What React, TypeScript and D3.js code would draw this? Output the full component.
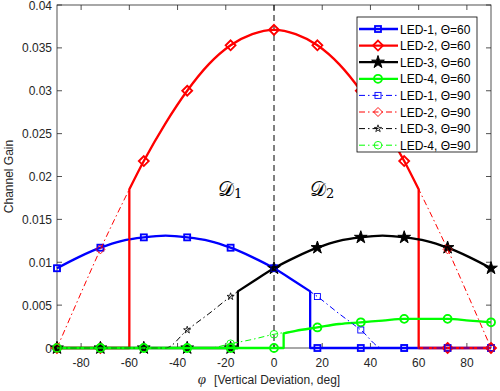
import React from 'react';
import * as d3 from 'd3';

type Pt = [number, number];

const width = 500;
const height = 391;
const margin = { top: 5, right: 9, bottom: 43, left: 57 };

const xTicks = [-80, -60, -40, -20, 0, 20, 40, 60, 80];
const yTicks = [0, 0.005, 0.01, 0.015, 0.02, 0.025, 0.03, 0.035, 0.04];
const yTickLabels = ['0', '0.005', '0.01', '0.015', '0.02', '0.025', '0.03', '0.035', '0.04'];
const markerPhi = [-90, -72, -54, -36, -18, 0, 18, 36, 54, 72, 90];

// receiver FOV 60
const led1Fov60: Pt[] = [
  [-90, 0.0093], [-81, 0.0106], [-72, 0.0117], [-63, 0.0125], [-54, 0.0129], [-45, 0.0131],
  [-36, 0.0129], [-27, 0.0125], [-18, 0.0117], [-9, 0.0106], [0, 0.0093], [9, 0.0077],
  [15, 0.0066], [15, 0], [18, 0], [36, 0], [54, 0], [72, 0], [90, 0],
];
const led2Fov60: Pt[] = [
  [-90, 0], [-72, 0], [-60, 0], [-60, 0.0185], [-54, 0.0218], [-45, 0.0262], [-36, 0.03],
  [-27, 0.0331], [-18, 0.0353], [-9, 0.0366], [0, 0.0371], [9, 0.0366], [18, 0.0353],
  [27, 0.0331], [36, 0.03], [45, 0.0262], [54, 0.0218], [60, 0.0185], [60, 0], [72, 0], [90, 0],
];
const led3Fov60: Pt[] = [
  [-90, 0], [-72, 0], [-54, 0], [-36, 0], [-18, 0], [-15, 0], [-15, 0.0066], [-9, 0.0077],
  [0, 0.0093], [9, 0.0106], [18, 0.0117], [27, 0.0125], [36, 0.0129], [45, 0.0131],
  [54, 0.0129], [63, 0.0125], [72, 0.0117], [81, 0.0106], [90, 0.0093],
];
const led4Fov60: Pt[] = [
  [-90, 0], [-72, 0], [-54, 0], [-36, 0], [-18, 0], [0, 0], [4, 0], [4, 0.0017], [9, 0.002],
  [18, 0.0024], [27, 0.0028], [36, 0.003], [45, 0.0032], [54, 0.0034], [63, 0.0034],
  [72, 0.0034], [81, 0.0032], [90, 0.003],
];

// receiver FOV 90
const led1Fov90: Pt[] = [
  [-90, 0.0093], [-81, 0.0106], [-72, 0.0117], [-63, 0.0125], [-54, 0.0129], [-45, 0.0131],
  [-36, 0.0129], [-27, 0.0125], [-18, 0.0117], [-9, 0.0106], [0, 0.0093], [9, 0.0077],
  [18, 0.006], [27, 0.004], [36, 0.0021], [45, 0], [54, 0], [72, 0], [90, 0],
];
const led2Fov90: Pt[] = [
  [-90, 0], [-81, 0.0058], [-72, 0.0115], [-63, 0.0168], [-54, 0.0218], [-45, 0.0262],
  [-36, 0.03], [-27, 0.0331], [-18, 0.0353], [-9, 0.0366], [0, 0.0371], [9, 0.0366],
  [18, 0.0353], [27, 0.0331], [36, 0.03], [45, 0.0262], [54, 0.0218], [63, 0.0168],
  [72, 0.0115], [81, 0.0058], [90, 0],
];
const led3Fov90: Pt[] = [
  [-90, 0], [-72, 0], [-54, 0], [-45, 0], [-36, 0.0021], [-27, 0.004], [-18, 0.006],
  [-9, 0.0077], [0, 0.0093], [9, 0.0106], [18, 0.0117], [27, 0.0125], [36, 0.0129],
  [45, 0.0131], [54, 0.0129], [63, 0.0125], [72, 0.0117], [81, 0.0106], [90, 0.0093],
];
const led4Fov90: Pt[] = [
  [-90, 0], [-72, 0], [-54, 0], [-36, 0], [-27, 0], [-18, 0.0005], [-9, 0.001], [0, 0.0016],
  [9, 0.002], [18, 0.0024], [27, 0.0028], [36, 0.003], [45, 0.0032], [54, 0.0034],
  [63, 0.0034], [72, 0.0034], [81, 0.0032], [90, 0.003],
];

const seriesNames = [
  'LED-1, \u0398=60', 'LED-2, \u0398=60', 'LED-3, \u0398=60', 'LED-4, \u0398=60',
  'LED-1, \u0398=90', 'LED-2, \u0398=90', 'LED-3, \u0398=90', 'LED-4, \u0398=90',
];

const blue = '#0000ff';
const red = '#ff0000';
const black = '#000000';
const green = '#00ff00';
const axisColor = '#262626';
const font = 'Liberation Sans, Arial, sans-serif';

type Shape = 'square' | 'diamond' | 'star' | 'circle';

const series = [
  { data: led1Fov60, color: blue, shape: 'square' as Shape, thick: true },
  { data: led2Fov60, color: red, shape: 'diamond' as Shape, thick: true },
  { data: led3Fov60, color: black, shape: 'star' as Shape, thick: true },
  { data: led4Fov60, color: green, shape: 'circle' as Shape, thick: true },
  { data: led1Fov90, color: blue, shape: 'square' as Shape, thick: false },
  { data: led2Fov90, color: red, shape: 'diamond' as Shape, thick: false },
  { data: led3Fov90, color: black, shape: 'star' as Shape, thick: false },
  { data: led4Fov90, color: green, shape: 'circle' as Shape, thick: false },
];

const Marker = ({ shape, color, thick, cx, cy }: any) => {
  const sw = thick ? 1.8 : 0.9;
  if (shape === 'square') {
    const s = 6;
    return <rect x={cx - s / 2} y={cy - s / 2} width={s} height={s} fill='none' stroke={color} strokeWidth={sw} />;
  }
  if (shape === 'diamond') {
    const r = thick ? 5 : 4.5;
    return (
      <path d={`M${cx},${cy - r}L${cx + r},${cy}L${cx},${cy + r}L${cx - r},${cy}Z`} fill='none' stroke={color} strokeWidth={sw} />
    );
  }
  if (shape === 'circle') {
    const r = thick ? 4 : 3.8;
    return <circle cx={cx} cy={cy} r={r} fill='none' stroke={color} strokeWidth={sw} />;
  }
  const star = d3.symbol().type(d3.symbolStar).size(thick ? 50 : 16)();
  return (
    <path d={star || ''} transform={`translate(${cx},${cy})`} fill={thick ? color : 'none'} stroke={color} strokeWidth={thick ? 1 : 0.8} />
  );
};

const App = () => {
  const xScale = d3.scaleLinear().domain([-90, 90]).range([margin.left, width - margin.right]);
  const yScale = d3.scaleLinear().domain([0, 0.04]).range([height - margin.bottom, margin.top]);
  const x0 = margin.left;
  const x1 = width - margin.right;
  const y0 = height - margin.bottom;
  const y1 = margin.top;

  const lineGen = d3
    .line<Pt>()
    .x(d => xScale(d[0]))
    .y(d => yScale(d[1]))
    .curve(d3.curveMonotoneX);

  // split where phi repeats so the FOV cut-offs come out as vertical steps
  const buildPath = (pts: Pt[]) => {
    const segs: Pt[][] = [];
    let cur: Pt[] = [pts[0]];
    for (let i = 1; i < pts.length; i++) {
      if (pts[i][0] === pts[i - 1][0]) {
        segs.push(cur);
        cur = [pts[i]];
      } else cur.push(pts[i]);
    }
    segs.push(cur);
    return segs
      .map((s, i) => {
        const p = lineGen(s) || '';
        return i === 0 ? p : 'L' + p.slice(1);
      })
      .join('');
  };

  const dashDot = '6,3,1.5,3';
  const legendX = 357;
  const legendY = 17;
  const rowH = 16.6;

  return (
    <svg width={width} height={height} style={{ position: 'absolute', left: 0, top: 0, background: '#fff' }}>
      <rect x={0} y={0} width={width} height={height} fill='#fff' />
      {/* axes box and ticks */}
      <rect x={x0} y={y1} width={x1 - x0} height={y0 - y1} fill='none' stroke={axisColor} strokeWidth={0.8} />
      {xTicks.map(t => (
        <g key={`xt-${t}`}>
          <line x1={xScale(t)} x2={xScale(t)} y1={y0} y2={y0 - 5} stroke={axisColor} strokeWidth={0.8} />
          <line x1={xScale(t)} x2={xScale(t)} y1={y1} y2={y1 + 5} stroke={axisColor} strokeWidth={0.8} />
          <text x={xScale(t)} y={y0 + 19} textAnchor='middle' fontFamily={font} fontSize={12} fill={axisColor}>
            {t}
          </text>
        </g>
      ))}
      {yTicks.map((t, i) => (
        <g key={`yt-${i}`}>
          <line x1={x0} x2={x0 + 5} y1={yScale(t)} y2={yScale(t)} stroke={axisColor} strokeWidth={0.8} />
          <line x1={x1} x2={x1 - 5} y1={yScale(t)} y2={yScale(t)} stroke={axisColor} strokeWidth={0.8} />
          <text x={x0 - 5} y={yScale(t) + 4.5} textAnchor='end' fontFamily={font} fontSize={12} fill={axisColor}>
            {yTickLabels[i]}
          </text>
        </g>
      ))}
      <text
        transform={`translate(13, ${(y0 + y1) / 2}) rotate(-90)`}
        textAnchor='middle'
        fontFamily={font}
        fontSize={12}
        fill={axisColor}
      >
        Channel Gain
      </text>
      <text x={(x0 + x1) / 2 - 5} y={384} textAnchor='middle' fontFamily={font} fontSize={12} fill={axisColor}>
        <tspan fontFamily='Liberation Serif, serif' fontStyle='italic' fontSize={15}>
          {'\u03C6'}
        </tspan>
        <tspan dx={8}>[Vertical Deviation, deg]</tspan>
      </text>

      {/* region divider */}
      <line x1={xScale(0)} x2={xScale(0)} y1={y1} y2={y0} stroke={black} strokeWidth={1} strokeDasharray='6,4' />
      <text x={218} y={196} fontFamily='DejaVu Serif, serif' fontSize={20} fill={black}>
        {'\uD835\uDC9F'}
        <tspan fontSize={13} dy={2}>1</tspan>
      </text>
      <text x={310} y={196} fontFamily='DejaVu Serif, serif' fontSize={20} fill={black}>
        {'\uD835\uDC9F'}
        <tspan fontSize={13} dy={2}>2</tspan>
      </text>

      {/* series */}
      {series.map((s, si) => (
        <g key={`s-${si}`}>
          <path
            d={buildPath(s.data)}
            fill='none'
            stroke={s.color}
            strokeWidth={s.thick ? 2.3 : 1}
            strokeDasharray={s.thick ? undefined : dashDot}
            strokeLinejoin='round'
          />
          {markerPhi.map(p => {
            const d = s.data.find(q => q[0] === p);
            if (!d) return null;
            return <Marker key={`m-${si}-${p}`} shape={s.shape} color={s.color} thick={s.thick} cx={xScale(d[0])} cy={yScale(d[1])} />;
          })}
        </g>
      ))}

      {/* legend */}
      <rect x={legendX} y={legendY} width={477 - legendX} height={152 - legendY} fill='#fff' stroke={black} strokeWidth={0.8} />
      {series.map((s, i) => {
        const cy = legendY + 12 + i * rowH;
        return (
          <g key={`lg-${i}`}>
            <line
              x1={legendX + 2}
              x2={legendX + 41}
              y1={cy}
              y2={cy}
              stroke={s.color}
              strokeWidth={s.thick ? 2.3 : 1}
              strokeDasharray={s.thick ? undefined : dashDot}
            />
            <Marker shape={s.shape} color={s.color} thick={s.thick} cx={legendX + 21} cy={cy} />
            <text x={legendX + 43} y={cy + 4.5} fontFamily={font} fontSize={12} fill={black}>
              {seriesNames[i]}
            </text>
          </g>
        );
      })}
    </svg>
  );
};

export default App;
